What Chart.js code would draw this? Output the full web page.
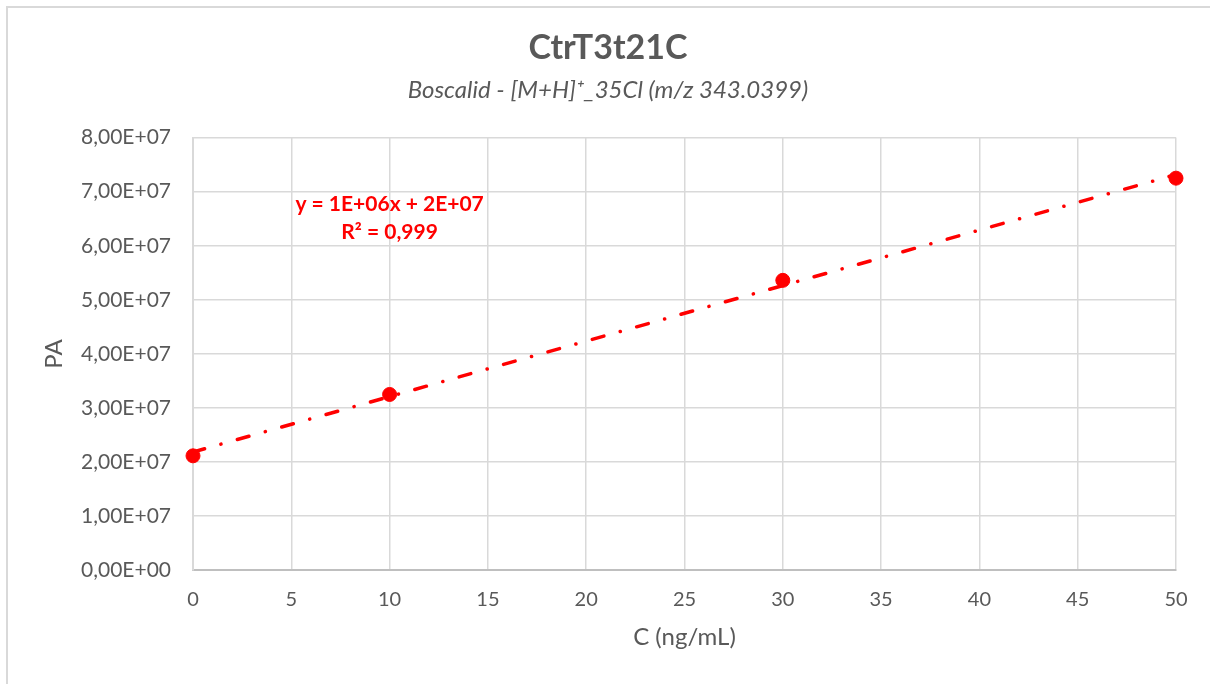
<!DOCTYPE html>
<html>
<head>
<meta charset="utf-8">
<title>CtrT3t21C</title>
<script src="https://cdn.jsdelivr.net/npm/chart.js@4.4.1/dist/chart.umd.min.js"></script>
<style>
  html, body { margin: 0; padding: 0; background: #fff; overflow: hidden; }
  #wrap { position: relative; width: 1210px; height: 684px; }
  #frame { position: absolute; left: 6px; top: 6px; width: 1220px; height: 700px;
           border-left: 2px solid #d9d9d9; border-top: 2px solid #d9d9d9; box-sizing: border-box; }
  canvas { position: absolute; left: 0; top: 0; }
</style>
</head>
<body>
<div id="wrap">
  <div id="frame"></div>
  <canvas id="calChart" width="1210" height="684"></canvas>
</div>
<script>
// ---- data ----
var concentrations = [0, 10, 30, 50];
var peakAreas = [2.115e7, 3.25e7, 5.36e7, 7.25e7];
var equationLines = ["y = 1E+06x + 2E+07", "R\u00b2 = 0,999"];

var FONT = "Lato, 'Open Sans', sans-serif";
var GREY = "#595959";

// Excel-style linear trendline (least squares on the points above)
function linearFit(xs, ys) {
  var n = xs.length, mx = 0, my = 0;
  for (var i = 0; i < n; i++) { mx += xs[i]; my += ys[i]; }
  mx /= n; my /= n;
  var sxx = 0, sxy = 0;
  for (var j = 0; j < n; j++) {
    sxx += (xs[j] - mx) * (xs[j] - mx);
    sxy += (xs[j] - mx) * (ys[j] - my);
  }
  var slope = sxy / sxx;
  return { slope: slope, intercept: my - slope * mx };
}
var fit = linearFit(concentrations, peakAreas);
var xMin = concentrations[0], xMax = concentrations[concentrations.length - 1];
var trendPoints = [
  { x: xMin, y: fit.intercept + fit.slope * xMin },
  { x: xMax, y: fit.intercept + fit.slope * xMax }
];

function sciComma(v) {
  return v.toExponential(2).replace(".", ",").replace(/e\+?(-?)(\d+)$/, function (m, s, d) {
    return "E" + (s ? "-" : "+") + (d.length < 2 ? "0" + d : d);
  });
}

// equation text, anchored in data coordinates
var equationLabel = {
  id: "equationLabel",
  afterDatasetsDraw: function (chart) {
    var ctx = chart.ctx, xs = chart.scales.x, ys = chart.scales.y;
    ctx.save();
    ctx.fillStyle = "#ff0000";
    ctx.font = "bold 21px " + FONT;
    ctx.textAlign = "center";
    ctx.textBaseline = "middle";
    ctx.fillText(equationLines[0], xs.getPixelForValue(10), ys.getPixelForValue(6.77e7));
    ctx.fillText(equationLines[1], xs.getPixelForValue(10), ys.getPixelForValue(6.25e7));
    ctx.restore();
  }
};

var ctx = document.getElementById("calChart").getContext("2d");
var calChart = new Chart(ctx, {
  type: "scatter",
  data: {
    datasets: [{
      label: "PA",
      data: concentrations.map(function (c, i) { return { x: c, y: peakAreas[i] }; }),
      backgroundColor: "#ff0000",
      borderColor: "#ff0000",
      pointRadius: 7,
      pointHoverRadius: 7,
      clip: false,
      order: 2
    }, {
      label: "Linear (PA)",
      type: "line",
      data: trendPoints,
      borderColor: "#ff0000",
      borderWidth: 3.5,
      borderDash: [12, 17, 0.1, 17],
      borderCapStyle: "round",
      pointRadius: 0,
      fill: false,
      order: 1
    }]
  },
  options: {
    responsive: false,
    animation: false,
    layout: { padding: { left: 40, right: 34, top: 20, bottom: 32 } },
    plugins: {
      legend: { display: false },
      tooltip: { enabled: false },
      title: {
        display: true,
        text: "CtrT3t21C",
        color: GREY,
        font: { family: FONT, size: 34, weight: "bold" },
        padding: { top: 8, bottom: 0 }
      },
      subtitle: {
        display: true,
        text: "Boscalid - [M+H]\u207a_35Cl (m/z 343.0399)",
        color: GREY,
        font: { family: FONT, size: 24, style: "italic" },
        padding: { top: 7, bottom: 33 }
      }
    },
    scales: {
      x: {
        type: "linear",
        min: 0,
        max: 50,
        ticks: { stepSize: 5, color: GREY, padding: 17, font: { family: FONT, size: 20 } },
        grid: { color: "#d9d9d9", lineWidth: 1.5, drawTicks: false },
        border: { color: "#bfbfbf", width: 2 },
        title: { display: true, text: "C (ng/mL)", color: GREY,
                 font: { family: FONT, size: 24 }, padding: { top: -5, bottom: 0 } }
      },
      y: {
        min: 0,
        max: 8e7,
        ticks: { stepSize: 1e7, color: GREY, padding: 22, font: { family: FONT, size: 21 },
                 callback: function (v) { return sciComma(v); } },
        grid: { color: "#d9d9d9", lineWidth: 1.5, drawTicks: false },
        border: { color: "#d9d9d9", width: 2 },
        title: { display: true, text: "PA", color: GREY,
                 font: { family: FONT, size: 24 }, padding: { top: 0, bottom: 0 } },
        afterFit: function (scale) { scale.width = 153; }
      }
    }
  },
  plugins: [equationLabel]
});
</script>
</body>
</html>
